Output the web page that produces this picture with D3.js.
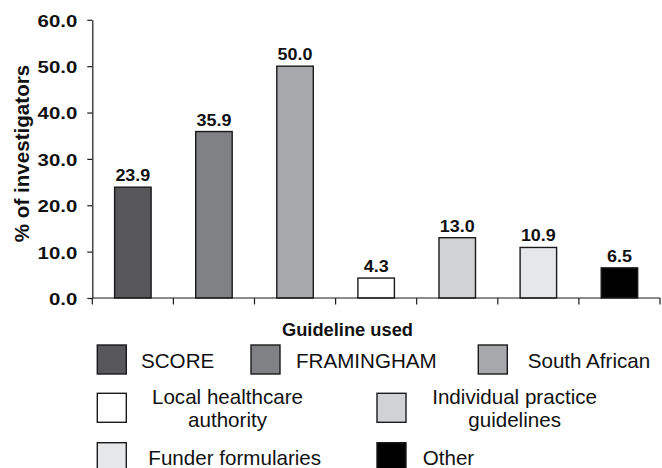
<!DOCTYPE html>
<html>
<head>
<meta charset="utf-8">
<script src="https://cdn.jsdelivr.net/npm/d3@7/dist/d3.min.js"></script>
<style>
  html, body { margin: 0; padding: 0; background: #fff; }
  svg { display: block; font-family: "Liberation Sans", Arial, Helvetica, sans-serif; }
</style>
</head>
<body>
<svg id="chart" width="662" height="468"></svg>
<script>
// Guideline categories and share of investigators (%)
const categories = ["SCORE", "FRAMINGHAM", "South African", "Local healthcare authority",
                    "Individual practice guidelines", "Funder formularies", "Other"];
const values = [23.9, 35.9, 50.0, 4.3, 13.0, 10.9, 6.5];
const colors = ["#58585b", "#808184", "#a7a8ab", "#ffffff", "#d1d2d4", "#e6e7e8", "#000000"];
const yTicks = [0, 10, 20, 30, 40, 50, 60];
const legendLines = [["SCORE"], ["FRAMINGHAM"], ["South African"],
                     ["Local healthcare", "authority"], ["Individual practice", "guidelines"],
                     ["Funder formularies"], ["Other"]];
const yTitle = "% of investigators";
const xTitle = "Guideline used";

const svg = d3.select("#chart");
const ink = "#1a1a1a";

const x = d3.scaleBand().domain(categories).range([92.3, 660]).padding(0);
const y = d3.scaleLinear().domain([0, 60]).range([298, 19.8]);

// Y axis
const yAxis = svg.append("g")
  .attr("transform", `translate(${x.range()[0]},0)`)
  .call(d3.axisLeft(y).tickValues(yTicks).tickFormat(d3.format(".1f"))
        .tickSize(5).tickSizeOuter(0).tickPadding(10));
yAxis.select(".domain").attr("stroke", ink).attr("stroke-width", 1.2);
yAxis.selectAll(".tick line").attr("stroke", ink).attr("stroke-width", 1.2);
yAxis.selectAll(".tick text")
  .attr("fill", "#111")
  .style("font-size", "17px")
  .style("font-weight", "bold")
  .attr("dy", "0.38em")
  .each(function () {
    const t = d3.select(this);
    const tx = +t.attr("x");
    t.attr("x", 0).attr("transform", `translate(${tx},0) scale(1.2,1)`);
  });

// Bars
const barW = x.bandwidth() * 0.45;
svg.append("g").selectAll("rect")
  .data(categories)
  .join("rect")
  .attr("x", d => x(d) + (x.bandwidth() - barW) / 2)
  .attr("y", (d, i) => y(values[i]))
  .attr("width", barW)
  .attr("height", (d, i) => y(0) - y(values[i]))
  .attr("fill", (d, i) => colors[i])
  .attr("stroke", ink)
  .attr("stroke-width", 1.4);

// Value labels
svg.append("g").selectAll("text")
  .data(categories)
  .join("text")
  .attr("transform", (d, i) => `translate(${x(d) + x.bandwidth() / 2},${y(values[i]) - 6}) scale(1.07,1)`)
  .attr("text-anchor", "middle")
  .style("font-size", "16.8px")
  .style("font-weight", "bold")
  .attr("fill", "#111")
  .text((d, i) => d3.format(".1f")(values[i]));

// X axis line with ticks at category boundaries
const bounds = categories.map(c => x(c)).concat([x.range()[1]]);
const xAxis = svg.append("g");
xAxis.append("line")
  .attr("x1", x.range()[0]).attr("x2", x.range()[1])
  .attr("y1", y(0)).attr("y2", y(0))
  .attr("stroke", ink).attr("stroke-width", 1.2);
xAxis.selectAll("line.tk")
  .data(bounds)
  .join("line")
  .attr("class", "tk")
  .attr("x1", d => d).attr("x2", d => d)
  .attr("y1", y(0)).attr("y2", y(0) + 6.5)
  .attr("stroke", ink).attr("stroke-width", 1.2);

// Axis titles
svg.append("text")
  .attr("transform", "translate(28.5,153.5) rotate(-90)")
  .attr("text-anchor", "middle")
  .style("font-size", "20.6px")
  .style("font-weight", "bold")
  .attr("fill", "#111")
  .text(yTitle);

svg.append("text")
  .attr("x", 347.5).attr("y", 336)
  .attr("text-anchor", "middle")
  .style("font-size", "18.3px")
  .style("font-weight", "bold")
  .attr("fill", "#111")
  .text(xTitle);

// Legend
const sw = 29;
const legendPos = [
  { sx: 97.3, sy: 345,   tx: 141,   anchor: "start",  base: 367.7 },
  { sx: 251,  sy: 345,   tx: 296,   anchor: "start",  base: 367.7 },
  { sx: 478.3, sy: 345,  tx: 527.7, anchor: "start",  base: 367.7 },
  { sx: 97.3, sy: 393.3, tx: 227.5, anchor: "middle", base: 404 },
  { sx: 377,  sy: 393.3, tx: 514.6, anchor: "middle", base: 404 },
  { sx: 97.3, sy: 442.7, tx: 148.3, anchor: "start",  base: 464.7 },
  { sx: 377,  sy: 442.7, tx: 422.7, anchor: "start",  base: 464.7 }
];
const lg = svg.append("g").selectAll("g")
  .data(categories)
  .join("g");
lg.append("rect")
  .attr("x", (d, i) => legendPos[i].sx)
  .attr("y", (d, i) => legendPos[i].sy)
  .attr("width", sw).attr("height", sw)
  .attr("fill", (d, i) => colors[i])
  .attr("stroke", ink).attr("stroke-width", 1.4);
lg.append("text")
  .attr("text-anchor", (d, i) => legendPos[i].anchor)
  .style("font-size", "20.6px")
  .attr("fill", "#111")
  .each(function (d, i) {
    const t = d3.select(this);
    legendLines[i].forEach((line, k) => {
      t.append("tspan")
        .attr("x", legendPos[i].tx)
        .attr("y", legendPos[i].base + k * 22.7)
        .text(line);
    });
  });
</script>
</body>
</html>
